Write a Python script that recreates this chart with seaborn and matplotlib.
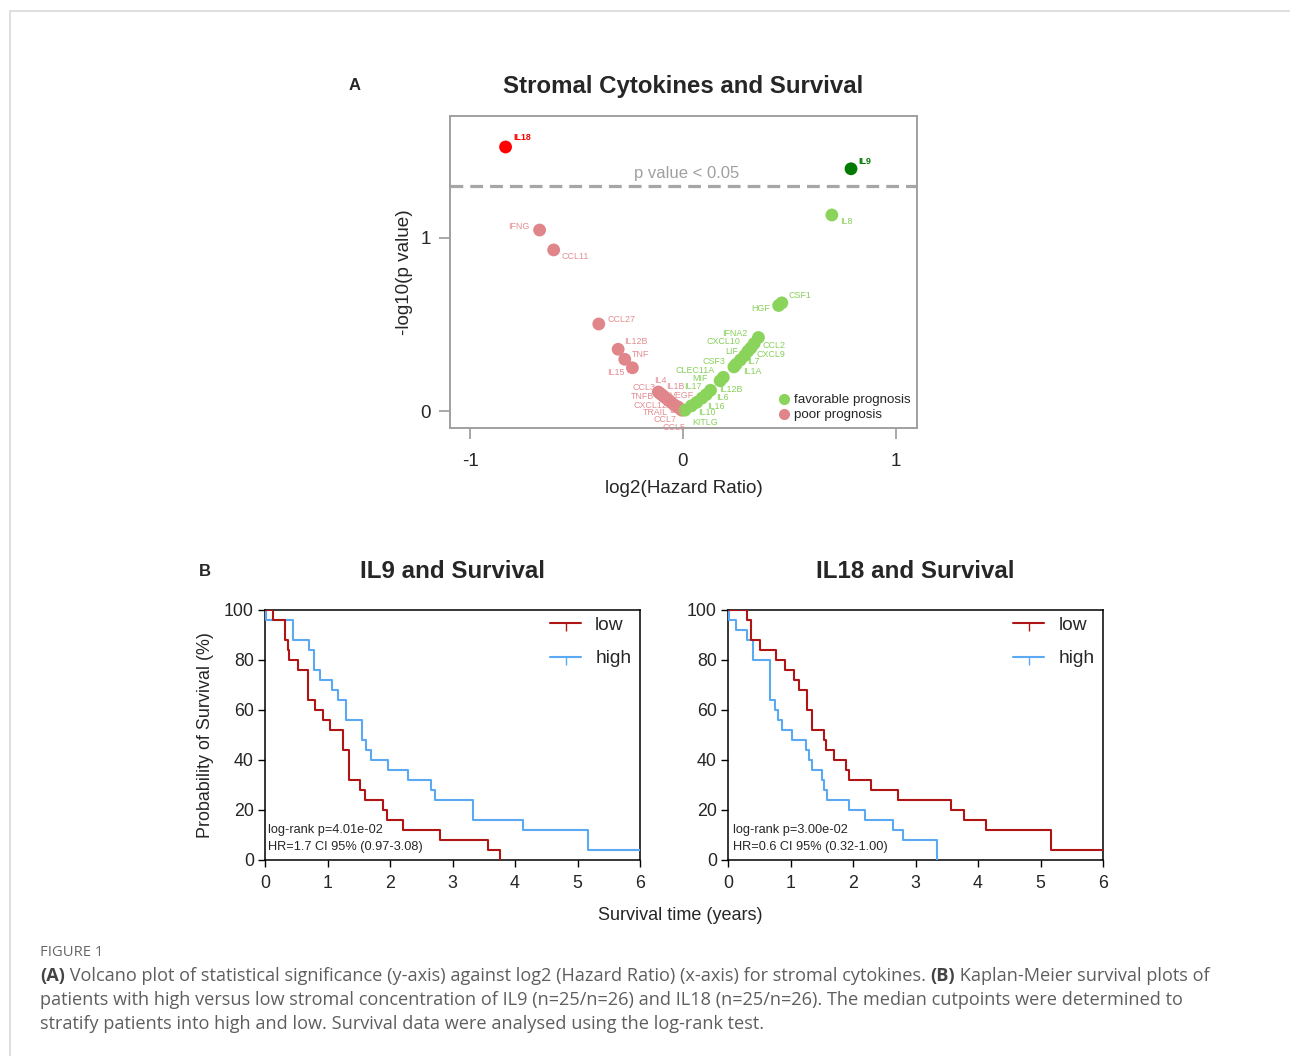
import numpy as np
import pandas as pd
import seaborn as sns
import matplotlib.pyplot as plt
from matplotlib.lines import Line2D

# ---- volcano data: log2(HR) and -log10(p) per cytokine ----
fav_names = ['KITLG', 'IL10', 'IL16', 'IL6', 'IL17', 'IL12B', 'MIF', 'CLEC11A',
             'CSF3', 'IL1A', 'IL7', 'LIF', 'CXCL9', 'CCL2', 'CXCL10', 'IFNA2',
             'HGF', 'CSF1', 'IL8', 'IL9']
fav_hr = [0.01, 0.04, 0.065, 0.09, 0.11, 0.13, 0.175, 0.19,
          0.24, 0.25, 0.27, 0.29, 0.305, 0.32, 0.335, 0.355,
          0.45, 0.465, 0.70, 0.79]
fav_logp = [0.005, 0.03, 0.05, 0.075, 0.095, 0.12, 0.175, 0.195,
            0.255, 0.27, 0.295, 0.32, 0.345, 0.365, 0.39, 0.425,
            0.61, 0.625, 1.133, 1.40]

poor_names = ['IL18', 'IFNG', 'CCL11', 'CCL27', 'IL12B', 'TNF', 'IL15', 'IL4',
              'CCL3', 'IL1B', 'TNFB', 'VEGF', 'CXCL12', 'TRAIL', 'IL3', 'CCL7', 'CCL5']
poor_hr = [-0.833, -0.673, -0.607, -0.395, -0.304, -0.273, -0.237, -0.115,
           -0.105, -0.095, -0.085, -0.07, -0.055, -0.04, -0.025, -0.015, -0.005]
poor_logp = [1.526, 1.046, 0.931, 0.503, 0.357, 0.299, 0.25, 0.11,
             0.10, 0.09, 0.08, 0.065, 0.05, 0.035, 0.025, 0.015, 0.005]

# ---- Kaplan-Meier data: event times (years) and survival (%) after each step ----
il9_low_t = [0, 0.13, 0.32, 0.36, 0.39, 0.53, 0.69, 0.80, 0.92, 1.04, 1.25, 1.35,
             1.52, 1.60, 1.88, 1.95, 2.20, 2.80, 3.56, 3.76]
il9_low_s = [100, 96, 88, 84, 80, 76, 64, 60, 56, 52, 44, 32,
             28, 24, 20, 16, 12, 8, 4, 0]
il9_high_t = [0, 0.02, 0.44, 0.71, 0.78, 0.88, 1.07, 1.16, 1.30, 1.55, 1.62, 1.69,
              1.97, 2.29, 2.65, 2.72, 3.32, 4.12, 5.17, 6.0]
il9_high_s = [100, 96, 88, 84, 76, 72, 68, 64, 56, 48, 44, 40,
              36, 32, 28, 24, 16, 12, 4, 4]

il18_low_t = [0, 0.30, 0.36, 0.51, 0.77, 0.91, 1.06, 1.14, 1.27, 1.34, 1.53, 1.57,
              1.69, 1.88, 1.93, 2.28, 2.72, 3.56, 3.77, 4.12, 5.16, 6.0]
il18_low_s = [100, 96, 88, 84, 80, 76, 72, 68, 60, 52, 48, 44,
              40, 36, 32, 28, 24, 20, 16, 12, 4, 4]
il18_high_t = [0, 0.02, 0.12, 0.31, 0.40, 0.67, 0.75, 0.80, 0.86, 1.02, 1.25, 1.29,
               1.34, 1.50, 1.54, 1.59, 1.94, 2.19, 2.64, 2.80, 3.34]
il18_high_s = [100, 96, 92, 88, 80, 64, 60, 56, 52, 48, 44, 40,
               36, 32, 28, 24, 20, 16, 12, 8, 0]

km_stats = {
    'IL9': ['log-rank p=4.01e-02', 'HR=1.7 CI 95% (0.97-3.08)'],
    'IL18': ['log-rank p=3.00e-02', 'HR=0.6 CI 95% (0.32-1.00)'],
}

# label offsets (pixels) and alignment for the volcano labels
fav_offsets = {
    'KITLG': (7, -12, 'left'), 'IL10': (7, -7, 'left'), 'IL16': (10, -4, 'left'),
    'IL6': (14, 1, 'left'), 'IL17': (-5, 8, 'right'), 'IL12B': (9, 1, 'left'),
    'MIF': (-12, 2, 'right'), 'CLEC11A': (-9, 7, 'right'), 'CSF3': (-9, 5, 'right'),
    'IL1A': (7, -7, 'left'), 'IL7': (7, -2, 'left'), 'LIF': (-6, 4, 'right'),
    'CXCL9': (9, -3, 'left'), 'CCL2': (12, 2, 'left'), 'CXCL10': (-14, 2, 'right'),
    'IFNA2': (-11, 4, 'right'), 'HGF': (-9, -3, 'right'), 'CSF1': (7, 7, 'left'),
    'IL8': (8, -7, 'left'), 'IL9': (7, 7, 'left'),
}
poor_offsets = {
    'IL18': (8, 9, 'left'), 'IFNG': (-10, 4, 'right'), 'CCL11': (8, -7, 'left'),
    'CCL27': (9, 4, 'left'), 'IL12B': (6, 8, 'left'), 'TNF': (7, 5, 'left'),
    'IL15': (-8, -5, 'right'), 'IL4': (-4, 12, 'left'), 'CCL3': (-5, 6, 'right'),
    'IL1B': (3, 9, 'left'), 'TNFB': (-11, 1, 'right'), 'VEGF': (2, 4, 'left'),
    'CXCL12': (-4, -3, 'right'), 'TRAIL': (-6, -8, 'right'), 'IL3': (-8, -4, 'left'),
    'CCL7': (-15, -11, 'center'), 'CCL5': (-8, -17, 'center'),
}

W, H = 1290, 1056
sns.set_theme(style='white')
plt.rcParams['font.family'] = ['Liberation Sans', 'DejaVu Sans']
plt.rcParams['axes.unicode_minus'] = False

fig = plt.figure(figsize=(W / 100, H / 100), dpi=100)


def box(l, t, r, b):
    return [l / W, 1 - b / H, (r - l) / W, (b - t) / H]


sig = -np.log10(0.05)
vol = pd.DataFrame({
    'name': poor_names + fav_names,
    'hr': poor_hr + fav_hr,
    'logp': poor_logp + fav_logp,
    'kind': ['poor'] * len(poor_names) + ['fav'] * len(fav_names),
})
vol['group'] = vol['kind'] + np.where(vol['logp'] > sig, '_sig', '')
palette = {'poor': '#e08589', 'poor_sig': '#ff0000', 'fav': '#8ad45c', 'fav_sig': '#007a00'}
text_col = {'poor': '#e48d91', 'poor_sig': '#ff0000', 'fav': '#86d058', 'fav_sig': '#007a00'}

# ---- panel A ----
ax = fig.add_axes(box(450, 116, 917, 428))
sns.scatterplot(data=vol, x='hr', y='logp', hue='group', palette=palette, s=85,
                linewidth=0, legend=False, ax=ax, zorder=3)
ax.axhline(sig, color='#a6a6a6', lw=2.3, dashes=(4, 2.2), zorder=2)
ax.text(0.02, sig + 0.03, 'p value < 0.05', color='#a0a0a0', fontsize=12,
        ha='center', va='bottom')
for _, r in vol.iterrows():
    offs = poor_offsets if r['kind'] == 'poor' else fav_offsets
    dx, dy, ha = offs[r['name']]
    bold = r['group'].endswith('_sig')
    ax.annotate(r['name'], (r['hr'], r['logp']), xytext=(dx, dy),
                textcoords='offset pixels', ha=ha, va='center',
                fontsize=6.4, color=text_col[r['group']],
                weight='bold' if bold else 'normal', zorder=4)
ax.set_xlim(-1.094, 1.10)
ax.set_ylim(-0.098, 1.705)
ax.set_xticks([-1, 0, 1])
ax.set_yticks([0, 1])
ax.tick_params(axis='both', which='both', direction='out', length=8, width=1.2,
               color='#999999', labelsize=13.5, left=True, bottom=True)
ax.tick_params(axis='x', pad=10)
ax.tick_params(axis='y', pad=6)
for sp in ax.spines.values():
    sp.set_color('#a0a0a0')
    sp.set_linewidth(1.4)
ax.set_xlabel('log2(Hazard Ratio)', fontsize=13.6, labelpad=7)
ax.set_ylabel('-log10(p value)', fontsize=13.6, labelpad=5)
ax.legend(handles=[
    Line2D([], [], ls='', marker='o', ms=8, mfc=palette['fav'], mec='none', label='favorable prognosis'),
    Line2D([], [], ls='', marker='o', ms=8, mfc=palette['poor'], mec='none', label='poor prognosis')],
    loc='lower right', bbox_to_anchor=(1.0, 0.0), frameon=False, fontsize=9.6,
    handletextpad=0.2, labelspacing=0.2, borderaxespad=0.1, handlelength=1.0)

fig.text(683 / W, 1 - 87 / H, 'Stromal Cytokines and Survival', ha='center', va='center',
         fontsize=17.3, weight='bold')
fig.text(355 / W, 1 - 86 / H, 'A', ha='center', va='center', fontsize=12, weight='bold')
fig.text(205 / W, 1 - 571 / H, 'B', ha='center', va='center', fontsize=12, weight='bold')

# ---- panel B ----
low_col, high_col = '#b01515', '#5aa9f2'


def km_frame(t, s, label):
    return pd.DataFrame({'time': t, 'surv': s, 'group': label})


km_sets = [
    ('IL9', 265, 640, km_frame(il9_low_t, il9_low_s, 'low'), km_frame(il9_high_t, il9_high_s, 'high'), 3),
    ('IL18', 728, 1103, km_frame(il18_low_t, il18_low_s, 'low'), km_frame(il18_high_t, il18_high_s, 'high'), 5),
]
for name, l, r, low_df, high_df, tx in km_sets:
    kax = fig.add_axes(box(l, 610, r, 860))
    km = pd.concat([low_df, high_df], ignore_index=True)
    sns.lineplot(data=km, x='time', y='surv', hue='group', palette={'low': low_col, 'high': high_col},
                 hue_order=['high', 'low'], estimator=None, sort=False, drawstyle='steps-post',
                 lw=1.5, legend=False, ax=kax, zorder=3)
    kax.set_xlim(0, 6)
    kax.set_ylim(0, 100)
    kax.set_xticks(range(0, 7))
    kax.set_yticks(range(0, 101, 20))
    kax.tick_params(direction='out', length=5, width=1, color='black', labelsize=12.8,
                    left=True, bottom=True)
    kax.tick_params(axis='x', pad=6)
    kax.tick_params(axis='y', pad=3)
    for sp in kax.spines.values():
        sp.set_color('black')
        sp.set_linewidth(1.1)
    kax.set_xlabel('')
    kax.set_ylabel('')
    kax.legend(handles=[
        Line2D([], [], color=low_col, lw=1.5, marker=3, ms=6, markevery=[1], label='low'),
        Line2D([], [], color=high_col, lw=1.5, marker=3, ms=6, markevery=[1], label='high')],
        loc='upper right', bbox_to_anchor=(1.0, 1.01), frameon=False, fontsize=13.8,
        handlelength=1.6, labelspacing=0.85, borderaxespad=0.05, handletextpad=0.75)
    kax.text(tx / 375, 0.118, km_stats[name][0], transform=kax.transAxes, fontsize=9.2, va='center')
    kax.text(tx / 375, 0.052, km_stats[name][1], transform=kax.transAxes, fontsize=9.2, va='center')
    fig.text((l + r) / 2 / W, 1 - 571 / H, f'{name} and Survival', ha='center', va='center',
             fontsize=17.4, weight='bold')

fig.text(205 / W, 1 - 735 / H, 'Probability of Survival (%)', rotation=90, ha='center', va='center',
         fontsize=12.9)
fig.text(680 / W, 1 - 915 / H, 'Survival time (years)', ha='center', va='center', fontsize=13)

# ---- frame and caption ----
over = fig.add_axes([0, 0, 1, 1], zorder=-1)
over.set_xlim(0, W)
over.set_ylim(H, 0)
over.axis('off')
over.plot([10, 10, W], [H, 11, 11], color='#d9d9d9', lw=1.2)

cap_font = ['Open Sans', 'DejaVu Sans']
over.text(40, 952, 'FIGURE 1', fontsize=10.6, color='#666666', va='center', family=cap_font)
cap_lines = [
    [('(A)', 'bold'), (' Volcano plot of statistical significance (y-axis) against log2 (Hazard Ratio) '
                       '(x-axis) for stromal cytokines. ', 'normal'), ('(B)', 'bold'),
     (' Kaplan-Meier survival plots of', 'normal')],
    [('patients with high versus low stromal concentration of IL9 (n=25/n=26) and IL18 (n=25/n=26). '
      'The median cutpoints were determined to', 'normal')],
    [('stratify patients into high and low. Survival data were analysed using the log-rank test.', 'normal')],
]
for i, parts in enumerate(cap_lines):
    y = 976 + 24 * i
    prev = None
    for s, w in parts:
        col = '#444444' if w == 'bold' else '#5e5e5e'
        if prev is None:
            prev = over.text(40, y, s, fontsize=13.1, color=col, weight=w, va='center', family=cap_font)
        else:
            prev = over.annotate(s, xy=(1, 0.5), xycoords=prev, va='center', ha='left',
                                 fontsize=13.1, color=col, weight=w, family=cap_font)

fig.savefig('out.png', dpi=100)
